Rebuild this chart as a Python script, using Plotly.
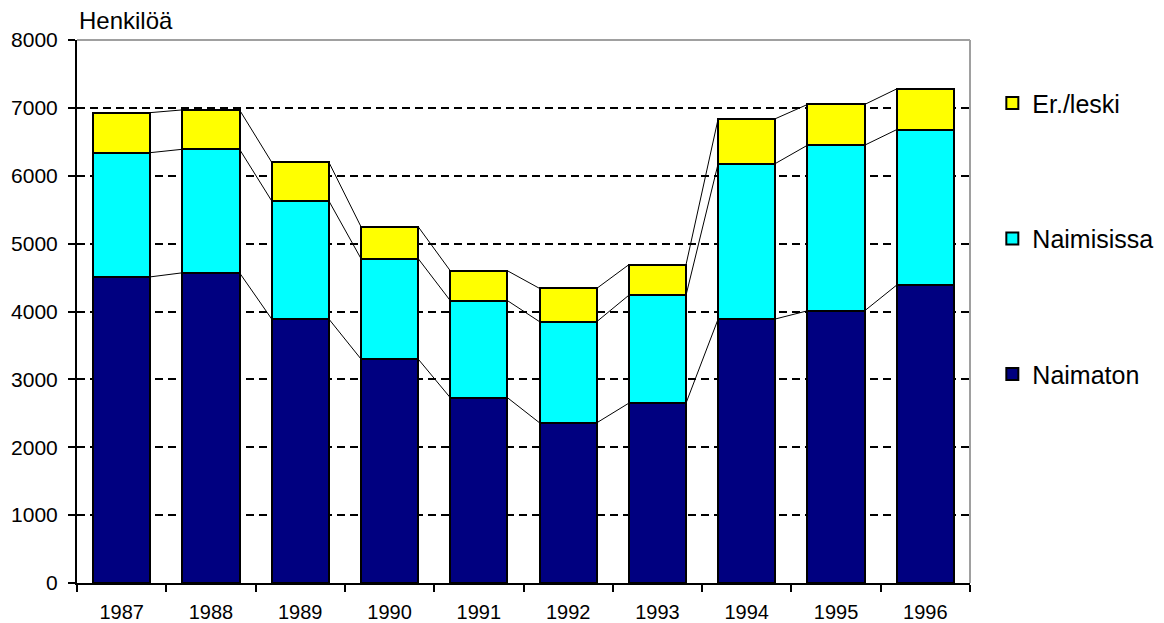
import plotly.graph_objects as go

years = ["1987", "1988", "1989", "1990", "1991", "1992", "1993", "1994", "1995", "1996"]
naimaton = [4510, 4570, 3890, 3300, 2730, 2360, 2650, 3890, 4010, 4390]
naimisissa = [1830, 1820, 1740, 1480, 1430, 1490, 1590, 2290, 2440, 2290]
erleski = [590, 580, 570, 470, 440, 490, 450, 660, 600, 600]
y_ticks = [0, 1000, 2000, 3000, 4000, 5000, 6000, 7000, 8000]

series = [("Naimaton", naimaton, "#000080", 3),
          ("Naimisissa", naimisissa, "#00FFFF", 2),
          ("Er./leski", erleski, "#FFFF00", 1)]

BAR_W = 0.64
FONT = "Liberation Sans, Arial, sans-serif"
xs = list(range(len(years)))

fig = go.Figure()
for name, vals, col, rank in series:
    fig.add_trace(go.Bar(x=xs, y=vals, name=name, width=BAR_W, legendrank=rank,
                         marker=dict(color=col, line=dict(color="black", width=2)),
                         legendgroup=name))

# series lines connecting the stacked tops
cum = [0] * len(years)
for name, vals, col, rank in series:
    cum = [c + v for c, v in zip(cum, vals)]
    lx, ly = [], []
    for i in range(len(years) - 1):
        lx += [i + BAR_W / 2, i + 1 - BAR_W / 2, None]
        ly += [cum[i], cum[i + 1], None]
    fig.add_trace(go.Scatter(x=lx, y=ly, mode="lines", showlegend=False,
                             line=dict(color="black", width=1), hoverinfo="skip"))

fig.update_layout(
    barmode="stack",
    width=1164, height=623,
    margin=dict(l=77, r=194, t=40, b=40, autoexpand=False),
    paper_bgcolor="white", plot_bgcolor="white",
    font=dict(family=FONT, size=21, color="black"),
    legend=dict(x=1.025, y=0.926, xanchor="left", yanchor="top",
                traceorder="grouped", tracegroupgap=100,
                font=dict(size=25), bgcolor="rgba(0,0,0,0)"),
    showlegend=True,
)
fig.update_xaxes(range=[-0.5, len(years) - 0.5], tickmode="array", tickvals=xs, ticktext=years,
                 ticks="", showgrid=False, zeroline=False, automargin=False,
                 showline=True, linecolor="black", linewidth=2,
                 ticklabelstandoff=10, tickfont=dict(size=20),
                 minor=dict(tickmode="linear", tick0=-0.5, dtick=1, ticks="outside",
                            ticklen=7, tickcolor="black", tickwidth=2, showgrid=False))
fig.update_yaxes(range=[0, 8000], tickmode="array", tickvals=y_ticks,
                 ticks="outside", ticklen=7, tickcolor="black", tickwidth=2,
                 showgrid=True, gridcolor="black", gridwidth=1.5, griddash="8px,5px",
                 zeroline=False, showline=True, linecolor="black", linewidth=2,
                 automargin=False, ticklabelstandoff=6)
# gray top/right border of plot area
fig.add_shape(type="line", xref="paper", yref="paper", x0=0, x1=1, y0=1, y1=1,
              line=dict(color="#a0a0a0", width=2), layer="above")
fig.add_shape(type="line", xref="paper", yref="paper", x0=1, x1=1, y0=0, y1=1,
              line=dict(color="#a0a0a0", width=2), layer="above")
fig.add_annotation(text="Henkilöä", xref="paper", yref="paper", x=0, y=1, yshift=4,
                   xanchor="left", yanchor="bottom", showarrow=False,
                   font=dict(size=24, family=FONT))
fig.write_html("out.html", config={"displayModeBar": False},
               post_script="document.body.style.margin='0px';")
